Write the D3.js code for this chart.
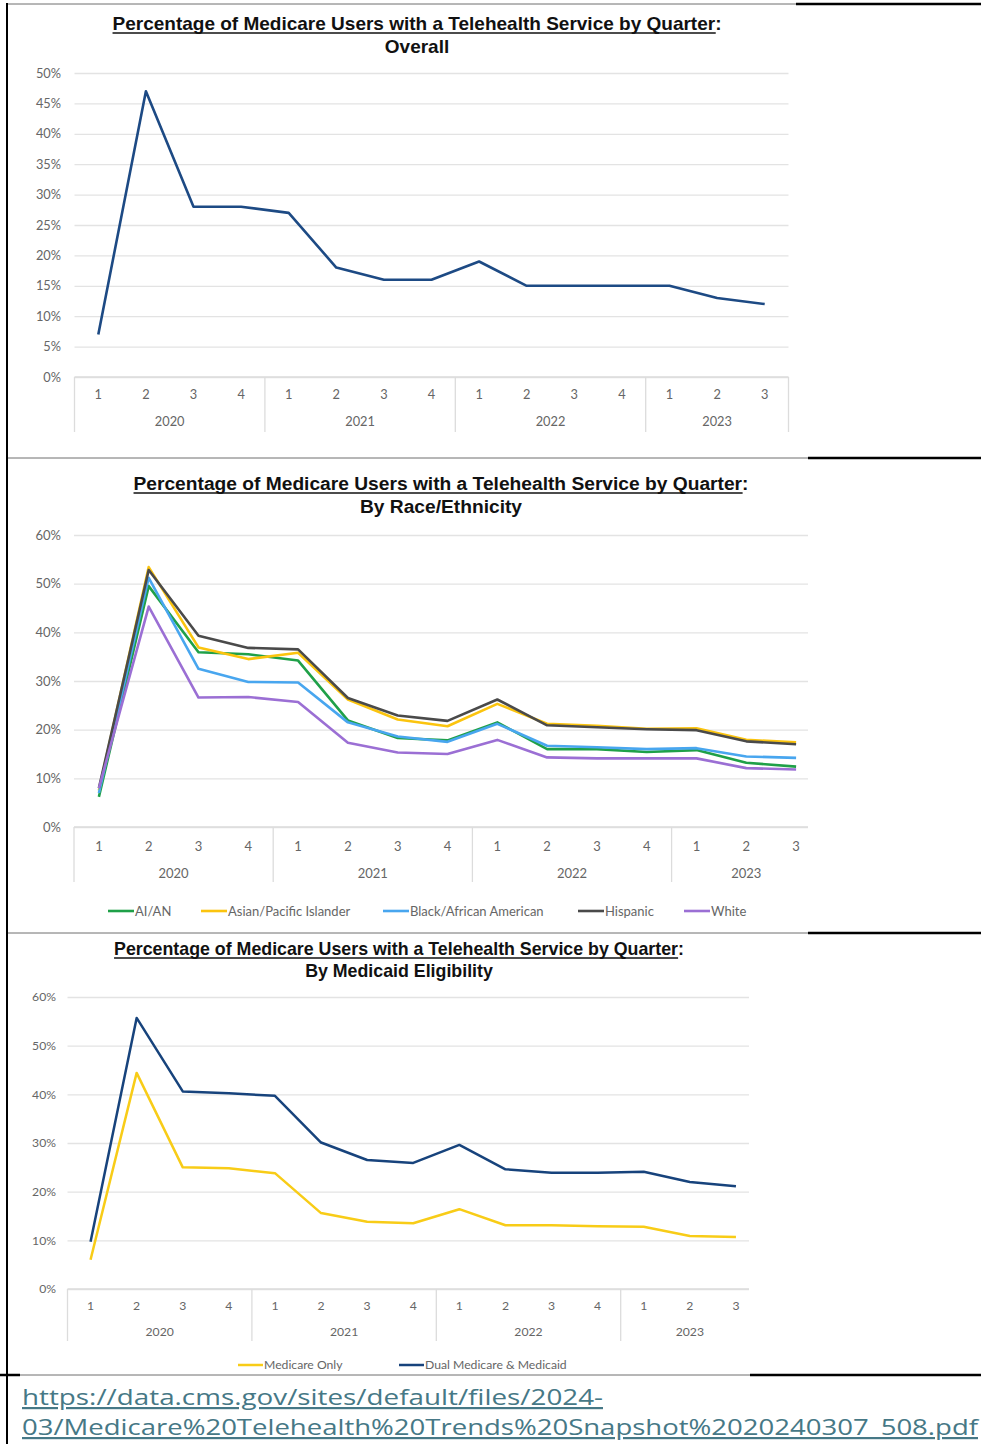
<!DOCTYPE html>
<html>
<head>
<meta charset="utf-8">
<script src="https://cdn.jsdelivr.net/npm/d3@7"></script>
<style>
  body { margin: 0; background: #fff; }
  svg { display: block; }
</style>
</head>
<body>
<div id="page"></div>
<script>
// quarters, shared by all three charts
const periodYear = ['2020','2020','2020','2020','2021','2021','2021','2021','2022','2022','2022','2022','2023','2023','2023'];
const periodQuarter = ['1','2','3','4','1','2','3','4','1','2','3','4','1','2','3'];

// overall share (%)
const overall = [7, 47, 28, 28, 27, 18, 16, 16, 19, 15, 15, 15, 15, 13, 12];

// by race / ethnicity (%)
const raceNames = ['AI/AN', 'Asian/Pacific Islander', 'Black/African American', 'Hispanic', 'White'];
const aian     = [6.2, 49.5, 35.9, 35.5, 34.2, 21.9, 18.3, 17.8, 21.5, 16.0, 16.0, 15.4, 15.8, 13.2, 12.4];
const asianPI  = [7.5, 53.4, 36.9, 34.5, 35.8, 26.2, 22.1, 20.7, 25.3, 21.2, 20.8, 20.2, 20.3, 17.9, 17.4];
const blackAA  = [7.0, 51.2, 32.5, 29.8, 29.7, 21.5, 18.6, 17.5, 21.2, 16.7, 16.4, 16.0, 16.2, 14.5, 14.2];
const hispanic = [8.0, 52.8, 39.3, 36.8, 36.5, 26.5, 22.9, 21.8, 26.2, 20.9, 20.5, 20.1, 19.9, 17.6, 17.0];
const white    = [8.0, 45.3, 26.6, 26.7, 25.7, 17.3, 15.3, 15.0, 17.9, 14.3, 14.1, 14.1, 14.1, 12.1, 11.8];

// by medicaid eligibility (%)
const eligNames = ['Medicare Only', 'Dual Medicare & Medicaid'];
const medicareOnly = [6.0, 44.4, 25.0, 24.8, 23.8, 15.6, 13.8, 13.5, 16.4, 13.1, 13.1, 12.9, 12.8, 10.9, 10.7];
const dualElig     = [9.7, 55.7, 40.6, 40.2, 39.7, 30.1, 26.5, 25.9, 29.6, 24.6, 23.9, 23.9, 24.1, 22.0, 21.1];

const mainTitle = 'Percentage of Medicare Users with a Telehealth Service by Quarter';
const subTitles = ['Overall', 'By Race/Ethnicity', 'By Medicaid Eligibility'];
const sourceLines = ['https://data.cms.gov/sites/default/files/2024-',
                     '03/Medicare%20Telehealth%20Trends%20Snapshot%2020240307_508.pdf'];

const W = 981, H = 1444;
const svg = d3.select('#page').append('svg').attr('width', W).attr('height', H);
const labelFont = 'Lato, "Open Sans", sans-serif';
const titleFont = '"Liberation Sans", Arial, sans-serif';

function drawChart(cfg) {
  const g = svg.append('g');
  const clipId = 'clip' + cfg.id;
  svg.append('clipPath').attr('id', clipId)
    .append('rect').attr('x', 0).attr('y', cfg.y1 - 20).attr('width', cfg.clipRight).attr('height', cfg.catBottom - cfg.y1 + 60);
  const body = g.append('g').attr('clip-path', 'url(#' + clipId + ')');

  const x = d3.scaleBand().domain(d3.range(periodQuarter.length)).range([cfg.left, cfg.left + cfg.band * periodQuarter.length]);
  const y = d3.scaleLinear().domain([0, cfg.yMax]).range([cfg.y0, cfg.y1]);
  const ticks = d3.range(0, cfg.yMax + 0.001, cfg.yStep);

  // gridlines
  body.append('g').attr('transform', 'translate(' + cfg.left + ',0)')
    .call(d3.axisLeft(y).tickValues(ticks).tickSize(-(cfg.band * 15)).tickFormat(''))
    .call(a => a.select('.domain').remove())
    .call(a => a.selectAll('line').attr('stroke', '#e3e3e3').attr('stroke-width', 1.3));

  // y labels
  g.append('g').attr('transform', 'translate(' + cfg.tickX + ',0)')
    .call(d3.axisLeft(y).tickValues(ticks).tickSize(0).tickPadding(0).tickFormat(d => Math.round(d * 100) + '%'))
    .call(a => a.select('.domain').remove())
    .call(a => a.selectAll('text').attr('font-family', labelFont).attr('font-size', cfg.fs).attr('fill', '#666'));

  // category axis: quarters then years
  const qAxis = body.append('g').attr('transform', 'translate(0,' + cfg.qY + ')')
    .call(d3.axisBottom(x).tickSize(0).tickPadding(0).tickFormat(i => periodQuarter[i]));
  qAxis.select('.domain').remove();
  qAxis.selectAll('text').attr('dy', '0.35em').attr('font-family', labelFont).attr('font-size', cfg.fs).attr('fill', '#666');

  const years = Array.from(new Set(periodYear));
  const yearSpans = years.map(yr => {
    const idx = d3.range(periodYear.length).filter(i => periodYear[i] === yr);
    return { yr, x0: x(idx[0]), x1: x(idx[idx.length - 1]) + x.bandwidth() };
  });
  body.append('g').selectAll('text').data(yearSpans).join('text')
    .attr('x', d => (d.x0 + d.x1) / 2).attr('y', cfg.yrY).attr('dy', '0.35em')
    .attr('text-anchor', 'middle').attr('font-family', labelFont).attr('font-size', cfg.fs).attr('fill', '#666')
    .text(d => d.yr);
  const seps = yearSpans.map(d => d.x0).concat([yearSpans[yearSpans.length - 1].x1]);
  body.append('g').selectAll('line').data(seps).join('line')
    .attr('x1', d => d).attr('x2', d => d).attr('y1', cfg.y0).attr('y2', cfg.catBottom)
    .attr('stroke', '#dcdcdc').attr('stroke-width', 1.3);
  body.append('line').attr('x1', cfg.left).attr('x2', cfg.left + cfg.band * 15)
    .attr('y1', cfg.y0).attr('y2', cfg.y0).attr('stroke', '#dcdcdc').attr('stroke-width', 1.3);

  // series
  const line = d3.line().x((d, i) => x(i) + x.bandwidth() / 2).y(d => y(d / 100));
  body.append('g').selectAll('path').data(cfg.series).join('path')
    .attr('d', s => line(s.values)).attr('fill', 'none')
    .attr('stroke', s => s.color).attr('stroke-width', cfg.lw).attr('stroke-linejoin', 'round');

  // title, underlined part + colon
  const t = g.append('text').attr('x', cfg.titleX).attr('y', cfg.titleY).attr('text-anchor', 'middle')
    .attr('font-family', titleFont).attr('font-weight', 'bold').attr('font-size', cfg.titleFs).attr('fill', '#111');
  const main = t.append('tspan').text(mainTitle);
  t.append('tspan').text(':');
  const bb = main.node().getBBox();
  g.append('line').attr('x1', bb.x).attr('x2', bb.x + bb.width)
    .attr('y1', cfg.titleY + 3).attr('y2', cfg.titleY + 3).attr('stroke', '#111').attr('stroke-width', 1.5);
  g.append('text').attr('x', cfg.titleX).attr('y', cfg.titleY + cfg.subGap).attr('text-anchor', 'middle')
    .attr('font-family', titleFont).attr('font-weight', 'bold').attr('font-size', cfg.titleFs).attr('fill', '#111')
    .text(cfg.sub);

  // legend
  if (cfg.legendX) {
    const lg = g.append('g').selectAll('g').data(cfg.series).join('g')
      .attr('transform', (s, i) => 'translate(' + cfg.legendX[i] + ',' + cfg.legendY + ')');
    lg.append('line').attr('x1', 0).attr('x2', cfg.legendLen).attr('stroke', s => s.color).attr('stroke-width', cfg.lw);
    lg.append('text').attr('x', cfg.legendLen + 1).attr('dy', '0.35em')
      .attr('font-family', labelFont).attr('font-size', cfg.fs).attr('fill', '#666').text(s => s.name);
  }
}

drawChart({
  id: 1, left: 74.5, band: 47.6, clipRight: 792, y0: 377, y1: 73, yMax: 0.5, yStep: 0.05,
  tickX: 61, qY: 395, yrY: 422, catBottom: 432, fs: 12.8, lw: 2.6,
  titleX: 417, titleY: 30, subGap: 23, titleFs: 19, sub: subTitles[0],
  series: [{ name: 'Overall', values: overall, color: '#1d4a84' }]
});

drawChart({
  id: 2, left: 74, band: 49.8, clipRight: 808, y0: 827, y1: 535, yMax: 0.6, yStep: 0.1,
  tickX: 61, qY: 846, yrY: 873, catBottom: 882, fs: 13, lw: 2.6,
  titleX: 441, titleY: 490, subGap: 23, titleFs: 19.2, sub: subTitles[1],
  legendX: [108, 201, 383, 578, 684], legendY: 911, legendLen: 26,
  series: [
    { name: raceNames[0], values: aian, color: '#1fa048' },
    { name: raceNames[1], values: asianPI, color: '#fbc40e' },
    { name: raceNames[2], values: blackAA, color: '#48a6ef' },
    { name: raceNames[3], values: hispanic, color: '#4a4a4a' },
    { name: raceNames[4], values: white, color: '#9b6fd4' }
  ]
});

drawChart({
  id: 3, left: 67.5, band: 46.1, clipRight: 749, y0: 1289, y1: 997, yMax: 0.6, yStep: 0.1,
  tickX: 56, qY: 1306, yrY: 1332, catBottom: 1341, fs: 12.2, lw: 2.5,
  titleX: 399, titleY: 955, subGap: 22, titleFs: 17.8, sub: subTitles[2],
  legendX: [238, 399], legendY: 1365, legendLen: 25,
  series: [
    { name: eligNames[0], values: medicareOnly, color: '#f8cc17' },
    { name: eligNames[1], values: dualElig, color: '#17437c' }
  ]
});

// table rules around the three pictures
const rules = [
  { y: 4, grayTo: 796 },
  { y: 458, grayTo: 808 },
  { y: 933, grayTo: 808 },
  { y: 1375, grayTo: 750 }
];
svg.append('g').selectAll('line.gray').data(rules).join('line')
  .attr('x1', 7).attr('x2', d => d.grayTo).attr('y1', d => d.y).attr('y2', d => d.y)
  .attr('stroke', '#6e6e6e').attr('stroke-width', 1);
svg.append('g').selectAll('line.black').data(rules).join('line')
  .attr('x1', d => d.grayTo).attr('x2', W).attr('y1', d => d.y).attr('y2', d => d.y)
  .attr('stroke', '#000').attr('stroke-width', 2.5);
svg.append('line').attr('x1', 0).attr('x2', 20).attr('y1', 1375).attr('y2', 1375).attr('stroke', '#000').attr('stroke-width', 2.5);
svg.append('line').attr('x1', 7).attr('x2', 7).attr('y1', 3).attr('y2', H).attr('stroke', '#000').attr('stroke-width', 2);

// source link (wide face, stretched to the printed width)
const sourceWidths = [581, 956];
svg.append('g').selectAll('text').data(sourceLines).join('text')
  .attr('x', 22).attr('y', (d, i) => 1405 + i * 30)
  .attr('font-family', '"Open Sans", sans-serif').attr('font-size', 22)
  .attr('textLength', (d, i) => sourceWidths[i]).attr('lengthAdjust', 'spacingAndGlyphs')
  .attr('fill', '#467886').attr('text-decoration', 'underline')
  .text(d => d);
</script>
</body>
</html>
